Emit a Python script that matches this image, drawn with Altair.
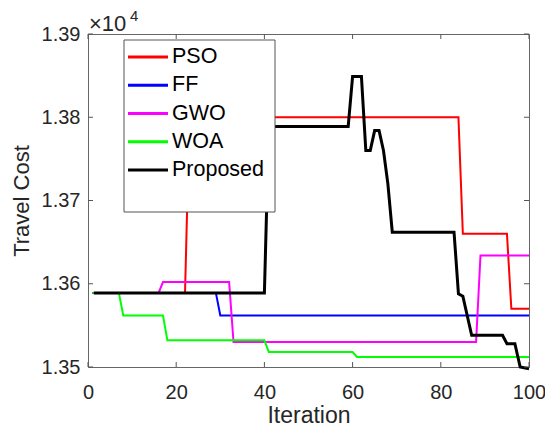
import altair as alt
import pandas as pd

names = ["PSO", "FF", "GWO", "WOA", "Proposed"]
colors = ["#FF0000", "#0000FF", "#FF00FF", "#00FF00", "#000000"]

pso_x = [1, 22, 23, 84, 85, 95, 96, 100]
pso_y = [13589, 13589, 13800, 13800, 13660, 13660, 13570, 13570]
ff_x = [1, 29, 30, 100]
ff_y = [13589, 13589, 13562, 13562]
gwo_x = [1, 16, 17, 32, 33, 88, 89, 100]
gwo_y = [13589, 13589, 13602, 13602, 13530, 13530, 13634, 13634]
woa_x = [1, 7, 8, 17, 18, 40, 41, 60, 61, 100]
woa_y = [13589, 13589, 13562, 13562, 13532, 13532, 13518, 13518, 13512, 13512]
prop_x = [1.3, 40, 41, 59, 60, 62, 63, 64, 65, 66, 67, 68, 69, 83, 84, 85, 87, 94, 95, 96.8, 98, 100]
prop_y = [13589, 13589, 13789, 13789, 13849, 13849, 13760, 13760, 13784, 13784, 13760, 13720, 13662,
          13662, 13588, 13585, 13538, 13538, 13528, 13528, 13500, 13498]

x_ticks = [0, 20, 40, 60, 80, 100]
y_ticks = [13500, 13600, 13700, 13800, 13900]

rows = []
for n, xs, ys in [("PSO", pso_x, pso_y), ("FF", ff_x, ff_y), ("GWO", gwo_x, gwo_y),
                  ("WOA", woa_x, woa_y), ("Proposed", prop_x, prop_y)]:
    for i, (a, b) in enumerate(zip(xs, ys)):
        rows.append({"algo": n, "iter": a, "cost": b, "k": i})
df = pd.DataFrame(rows)

FONT = "Liberation Sans"
W, H = 441, 333

xscale = alt.Scale(domain=[0, 100], nice=False, zero=False)
yscale = alt.Scale(domain=[13500, 13900], nice=False, zero=False)
cscale = alt.Scale(domain=names, range=colors)

base_x = alt.X("iter:Q", scale=xscale,
               axis=alt.Axis(values=x_ticks, grid=False, domain=False, ticks=False, tickSize=0,
                             labelPadding=15, labelFontSize=20, labelFont=FONT, labelColor="#262626",
                             labelFlush=False,
                             title="Iteration", titleFont=FONT, titleFontSize=23,
                             titleFontWeight="normal", titleColor="#262626",
                             titleX=W / 2, titleY=55, titleBaseline="alphabetic", titleAlign="center"))
base_y = alt.Y("cost:Q", scale=yscale,
               axis=alt.Axis(values=y_ticks, labelExpr="format(datum.value/10000,'.2f')",
                             grid=False, domain=False, ticks=False, tickSize=0, labelPadding=8,
                             labelFontSize=20, labelFont=FONT, labelColor="#262626", labelFlush=False,
                             title="Travel Cost", titleFont=FONT, titleFontSize=22,
                             titleFontWeight="normal", titleColor="#262626",
                             titleX=-67, titleY=H / 2, titleAngle=270, titleAlign="center",
                             titleBaseline="middle"))

others = alt.Chart(df[df.algo != "Proposed"]).mark_line(strokeWidth=2).encode(
    x=base_x, y=base_y,
    color=alt.Color("algo:N", scale=cscale, legend=None),
    detail="algo:N", order="k:Q")
prop = alt.Chart(df[df.algo == "Proposed"]).mark_line(strokeWidth=3, color="#000000").encode(
    x=alt.X("iter:Q", scale=xscale, axis=None),
    y=alt.Y("cost:Q", scale=yscale, axis=None), order="k:Q")

tx = pd.DataFrame({"t": x_ticks})
ty = pd.DataFrame({"t": y_ticks})
TC = "#555555"
tick_b = alt.Chart(tx).mark_rule(color=TC, strokeWidth=1).encode(
    x=alt.X("t:Q", scale=xscale, axis=None), y=alt.value(H), y2=alt.value(H - 5))
tick_t = alt.Chart(tx).mark_rule(color=TC, strokeWidth=1).encode(
    x=alt.X("t:Q", scale=xscale, axis=None), y=alt.value(0), y2=alt.value(5))
tick_l = alt.Chart(ty).mark_rule(color=TC, strokeWidth=1).encode(
    y=alt.Y("t:Q", scale=yscale, axis=None), x=alt.value(0), x2=alt.value(5))
tick_r = alt.Chart(ty).mark_rule(color=TC, strokeWidth=1).encode(
    y=alt.Y("t:Q", scale=yscale, axis=None), x=alt.value(W), x2=alt.value(W - 5))

one = pd.DataFrame({"a": [0]})
exp_main = alt.Chart(one).mark_text(text="×10", font=FONT, fontSize=22, align="left",
                                    baseline="alphabetic", color="#262626").encode(
    x=alt.value(1), y=alt.value(-3))
exp_sup = alt.Chart(one).mark_text(text="4", font=FONT, fontSize=15, align="left",
                                   baseline="alphabetic", color="#262626").encode(
    x=alt.value(42), y=alt.value(-13))

leg_box = alt.Chart(one).mark_rect(fill="white", stroke="#555555", strokeWidth=1).encode(
    x=alt.value(36), x2=alt.value(187), y=alt.value(6), y2=alt.value(178))
ldf = pd.DataFrame({"algo": names})
lscale = alt.Scale(type="point", domain=names, range=[23, 136], padding=0)
leg_lines = alt.Chart(ldf).mark_rule(strokeWidth=3).encode(
    x=alt.value(40), x2=alt.value(80),
    y=alt.Y("algo:N", scale=lscale, axis=None),
    color=alt.Color("algo:N", scale=cscale, legend=None))
leg_text = alt.Chart(ldf).mark_text(align="left", baseline="middle", font=FONT, fontSize=21.5,
                                    color="#000000").encode(
    x=alt.value(84), y=alt.Y("algo:N", scale=lscale, axis=None), text="algo:N")

chart = alt.layer(others, prop, tick_b, tick_t, tick_l, tick_r, exp_main, exp_sup,
                  leg_box, leg_lines, leg_text).resolve_scale(y="independent").resolve_axis(
    x="independent").properties(
    width=W, height=H,
    autosize=alt.AutoSizeParams(type="none"),
    padding={"left": 80, "top": 26, "right": 16, "bottom": 62},
    background="white",
).configure_view(stroke="#666666", strokeWidth=1)

chart.save("out.html", embed_options={"renderer": "svg", "actions": False})
